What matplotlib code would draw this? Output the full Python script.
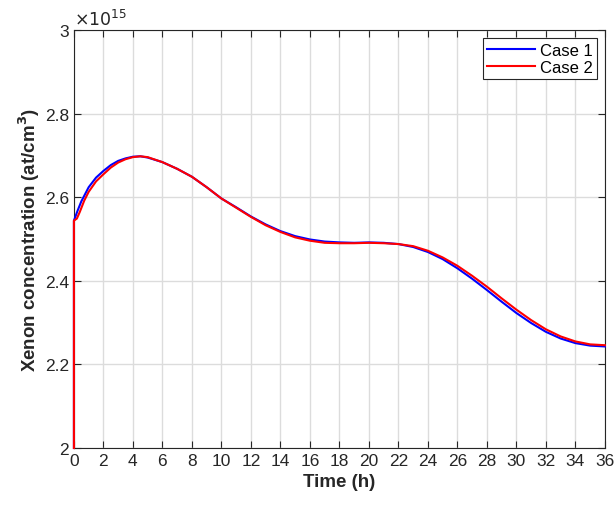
import numpy as np
import matplotlib.pyplot as plt
from matplotlib.ticker import FuncFormatter

plt.rcParams['font.family'] = ['Liberation Sans', 'DejaVu Sans']

# time (h) and xenon concentration (in units of 1e15 at/cm^3)
time_h = [0, 0, 0.25, 0.5, 1, 1.5, 2, 2.5, 3, 3.5, 4, 4.5, 5, 6, 7, 8, 9, 10, 11,
          12, 13, 14, 15, 16, 17, 18, 19, 20, 21, 22, 23, 24, 25, 26, 27, 28, 29,
          30, 31, 32, 33, 34, 35, 36]
case1 = [2.0, 2.544, 2.568, 2.590, 2.624, 2.647, 2.663, 2.677, 2.687, 2.693, 2.697,
         2.698, 2.695, 2.684, 2.668, 2.649, 2.624, 2.597, 2.576, 2.554, 2.535,
         2.519, 2.507, 2.499, 2.494, 2.492, 2.491, 2.492, 2.491, 2.488, 2.481,
         2.469, 2.452, 2.430, 2.405, 2.378, 2.350, 2.323, 2.299, 2.278, 2.262,
         2.251, 2.245, 2.243]

time_h2 = [0, 0, 0.2, 0.4, 0.7, 1, 1.5, 2, 2.5, 3, 3.5, 4, 4.5, 5, 6, 7, 8, 9, 10,
           11, 12, 13, 14, 15, 16, 17, 18, 19, 20, 21, 22, 23, 24, 25, 26, 27, 28,
           29, 30, 31, 32, 33, 34, 35, 36]
case2 = [2.0, 2.544, 2.549, 2.565, 2.592, 2.613, 2.638, 2.655, 2.671, 2.683, 2.691,
         2.696, 2.698, 2.696, 2.684, 2.668, 2.649, 2.624, 2.597, 2.575, 2.553,
         2.533, 2.517, 2.504, 2.496, 2.491, 2.490, 2.490, 2.491, 2.490, 2.488,
         2.483, 2.472, 2.456, 2.436, 2.412, 2.386, 2.358, 2.331, 2.306, 2.284,
         2.267, 2.255, 2.248, 2.246]

xticks = np.arange(0, 37, 2)
yticks = [2, 2.2, 2.4, 2.6, 2.8, 3]

fig = plt.figure(figsize=(6.16, 5.06), dpi=100)
ax = fig.add_axes([0.120, 0.1126, 0.862, 0.826])

ax.plot(time_h, case1, color=(0, 0, 1), linewidth=1.5, label='Case 1',
        zorder=3, clip_on=False)
ax.plot(time_h2, case2, color=(1, 0, 0), linewidth=1.5, label='Case 2',
        zorder=3, clip_on=False)

ax.set_xlim(0, 36)
ax.set_ylim(2, 3)
ax.set_xticks(xticks)
ax.set_yticks(yticks)
ax.yaxis.set_major_formatter(FuncFormatter(lambda v, p: f'{v:g}'))

ax.grid(True, color='#dcdcdc', linewidth=1.0)
ax.set_axisbelow(True)
ax.tick_params(direction='in', top=True, right=True, labelsize=12.5,
               length=5, width=0.8, colors='#262626', labelcolor='#262626')
for s in ax.spines.values():
    s.set_color('#262626')
    s.set_linewidth(0.8)

ax.set_xlabel('Time (h)', fontsize=13.5, fontweight='bold', color='#262626')
ax.set_ylabel(r'Xenon concentration (at/cm$^{\mathbf{3}}$)', fontsize=13.5,
              fontweight='bold', color='#262626', labelpad=2)
ax.text(0.0, 1.005, r'$\times10^{15}$', transform=ax.transAxes, fontsize=12.5,
        color='#262626', ha='left', va='bottom')

leg = ax.legend(loc='upper right', fontsize=12, handlelength=2.9, fancybox=False,
                framealpha=1, edgecolor='#262626', borderpad=0.25,
                labelspacing=0.15, handletextpad=0.25, borderaxespad=0.5)
leg.get_frame().set_linewidth(0.8)

fig.savefig('out.png', dpi=100)
